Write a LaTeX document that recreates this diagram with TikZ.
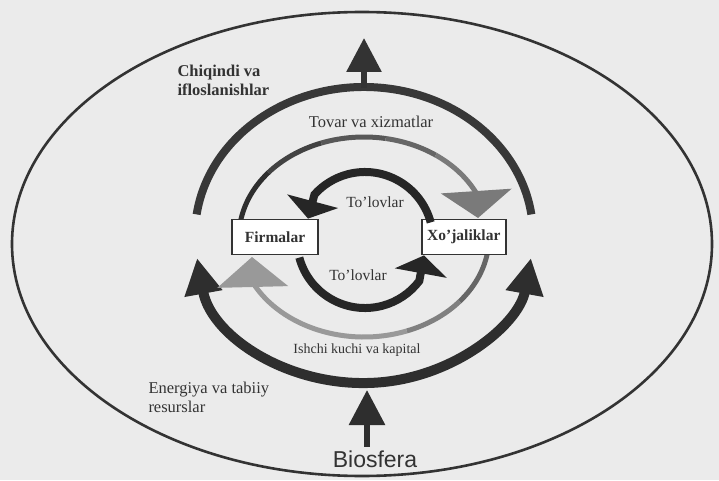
\documentclass[tikz,border=0pt]{standalone}
\usepackage{fontspec}
\setmainfont{Liberation Serif}
\newfontfamily\biofont{Liberation Sans}
\usetikzlibrary{%
  arrows.meta,%
  positioning,% wg. " of "
  calc%
}
\definecolor{paper}{gray}{0.92}
\definecolor{ink}{gray}{0.2}

\begin{document}
\begin{tikzpicture}
  [x=1pt, y=1pt, font=\fontsize{16.5}{19}\selectfont, line width=1pt, draw=ink, text=ink,
   agent/.style={draw=ink, fill=white, line width=1.8pt, font=\fontsize{15.5}{18}\selectfont\bfseries, minimum height=35pt, inner xsep=5pt},
   pay/.style={font=\fontsize{15.5}{18}\selectfont},
   bigtip/.style={-{Triangle[length=34pt,width=34pt]}},
   flat/.style={-{Triangle[length=#1,width=70pt]}}]

\fill[paper] (0,0) rectangle (719,480);
\useasboundingbox (0,0) rectangle (719,480);

\coordinate (midc) at (364,245);
\coordinate (ringc) at (364,243);
\coordinate (payc) at (365,240);

\draw[line width=2.6pt] (362,236) ellipse [x radius=350pt, y radius=232pt];

\draw[line width=8pt, draw=black!78] (midc) ++(172:169pt and 148pt) arc[start angle=172, end angle=8, x radius=169pt, y radius=148pt];
\draw[line width=10pt, draw=black!82, {Triangle[length=36pt,width=36pt]}-{Triangle[length=36pt,width=36pt]}] (midc) ++(189:169pt and 148pt) arc[start angle=189, end angle=351, x radius=169pt, y radius=148pt];

\coordinate (midtop) at (364,392);
\coordinate (waste) at (364,442);
\draw[line width=6pt, draw=black!80, bigtip] (midtop) -- (waste);

\foreach \s/\e/\c in {170/140/82,140/110/74,110/80/66,80/55/60}
  \draw[line width=5pt, draw=black!\c] (ringc) ++(\s:125pt and 100pt) arc[start angle=\s, end angle=\e, x radius=125pt, y radius=100pt];
\coordinate (goodstip) at (478,262);
\draw[line width=5pt, draw=black!52, flat=27pt] (ringc) ++(55:125pt and 100pt) arc[start angle=55, end angle=26, x radius=125pt, y radius=100pt] -- (goodstip);

\foreach \s/\e/\c in {-10/-40/60,-40/-70/50}
  \draw[line width=5pt, draw=black!\c] (ringc) ++(\s:125pt and 100pt) arc[start angle=\s, end angle=\e, x radius=125pt, y radius=100pt];
\coordinate (labourtip) at (252,223);
\draw[line width=5pt, draw=black!40, flat=30pt] (ringc) ++(-70:125pt and 100pt) arc[start angle=-70, end angle=-153, x radius=125pt, y radius=100pt] -- (labourtip);

\node[agent, minimum width=86pt] (firm) at (275,243) {Firmalar};
\node[agent, minimum width=84pt, right=102pt of firm] (home) {Xo'jaliklar};

\draw[line width=8pt, draw=black!85, -{Triangle[length=18pt,width=52pt]}] (payc) ++(15:68pt) arc[start angle=15, end angle=138, radius=68pt] -- (firm.north -| 308,0);
\draw[line width=8pt, draw=black!85, -{Triangle[length=18pt,width=52pt]}] (payc) ++(195:68pt) arc[start angle=195, end angle=323, radius=68pt] -- (home.south -| 424,0);

\node[font=\fontsize{16.5}{19}\selectfont\bfseries, align=left, anchor=west, inner sep=0] (wastelbl) at (177,400) {Chiqindi va\\ifloslanishlar};
\node (goods) at (371,358) {Tovar va xizmatlar};
\node[pay] (paytop) at (375,278) {To'lovlar};
\node[pay] (paybot) at (358,205) {To'lovlar};
\node[font=\fontsize{14}{17}\selectfont] (labour) at (357,130) {Ishchi kuchi va kapital};
\node[align=left, anchor=west, inner sep=0] (energy) at (148,83) {Energiya va tabiiy\\resurslar};

\node[font=\biofont\fontsize{23}{26}\selectfont] (bio) at (375,21) {Biosfera};
\coordinate (midbot) at (367,90);
\draw[line width=6pt, draw=black!82, -{Triangle[length=35pt,width=35pt]}] (bio.north -| midbot) -- (midbot);
\end{tikzpicture}
\end{document}
